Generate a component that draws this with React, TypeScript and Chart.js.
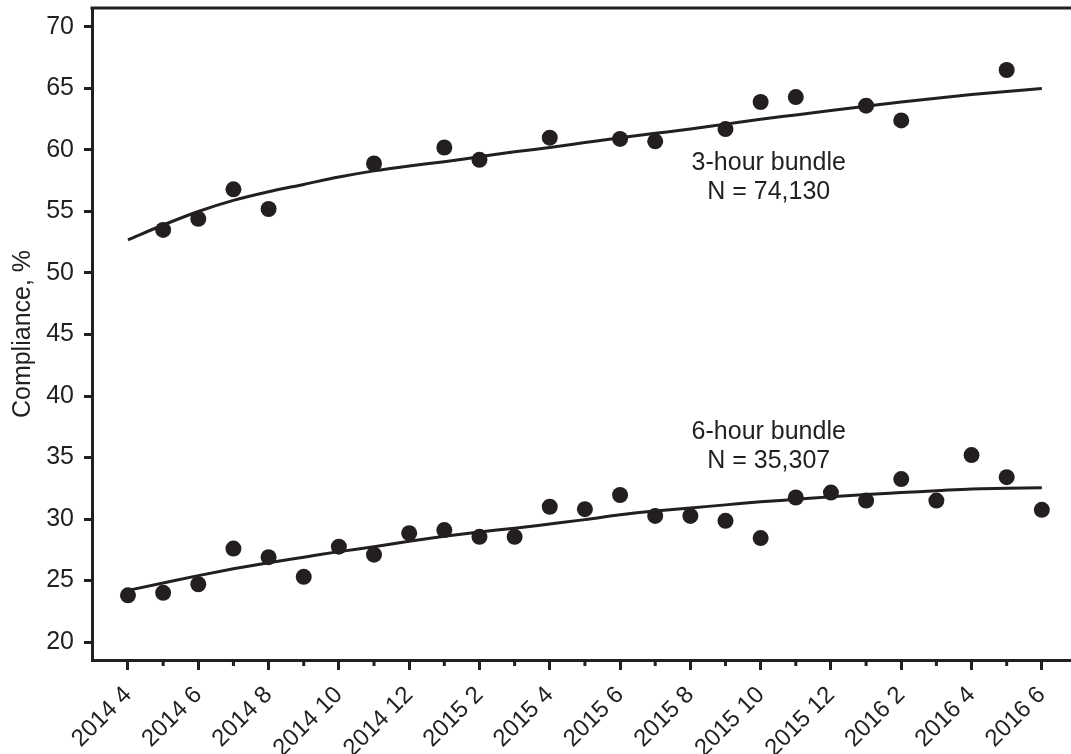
import React, { useEffect, useRef } from 'react';
import { Chart, registerables } from 'chart.js';

Chart.register(...registerables);

// ---- data ----
const monthLabels = [
  '2014 4', '2014 5', '2014 6', '2014 7', '2014 8', '2014 9', '2014 10', '2014 11', '2014 12',
  '2015 1', '2015 2', '2015 3', '2015 4', '2015 5', '2015 6', '2015 7', '2015 8', '2015 9',
  '2015 10', '2015 11', '2015 12', '2016 1', '2016 2', '2016 3', '2016 4', '2016 5', '2016 6',
];

const threeHourValues: (number | null)[] = [
  null, 53.5, 54.4, 56.8, 55.2, null, null, 58.9, null,
  60.2, 59.2, null, 61.0, null, 60.9, 60.7, null, 61.7,
  63.9, 64.3, null, 63.6, 62.4, null, null, 66.5, null,
];

const threeHourFit = [
  52.7, 53.9, 55.0, 55.9, 56.6, 57.2, 57.8, 58.3, 58.7,
  59.05, 59.45, 59.85, 60.2, 60.6, 61.0, 61.35, 61.7, 62.1,
  62.5, 62.85, 63.2, 63.55, 63.9, 64.2, 64.5, 64.75, 65.0,
];

const sixHourValues: (number | null)[] = [
  23.8, 24.0, 24.7, 27.6, 26.9, 25.3, 27.75, 27.1, 28.85,
  29.1, 28.55, 28.55, 31.0, 30.8, 31.95, 30.25, 30.25, 29.85,
  28.45, 31.75, 32.15, 31.5, 33.25, 31.5, 35.2, 33.4, 30.75,
];

const sixHourFit = [
  24.2, 24.8, 25.4, 25.95, 26.45, 26.9, 27.35, 27.75, 28.2,
  28.6, 28.95, 29.25, 29.6, 29.95, 30.35, 30.65, 30.9, 31.15,
  31.4, 31.6, 31.8, 32.0, 32.15, 32.3, 32.45, 32.5, 32.55,
];

const yTickValues = [20, 25, 30, 35, 40, 45, 50, 55, 60, 65, 70];

const threeHourNote = ['3-hour bundle', 'N = 74,130'];
const sixHourNote = ['6-hour bundle', 'N = 35,307'];

// ---- style ----
const FONT = '"Liberation Sans", Arial, Helvetica, sans-serif';
const INK = '#231f20';

const toPoints = (arr: (number | null)[]) =>
  arr
    .map((y, i) => (y == null ? null : { x: i, y }))
    .filter((p) => p !== null) as { x: number; y: number }[];

const framePlugin = {
  id: 'frameAndNotes',
  afterDraw(chart: any) {
    const { ctx, chartArea, scales } = chart;
    const xs = scales.x;
    ctx.save();
    // top border
    ctx.strokeStyle = INK;
    ctx.lineWidth = 3;
    ctx.beginPath();
    ctx.moveTo(chartArea.left - 1.5, chartArea.top);
    ctx.lineTo(chartArea.right, chartArea.top);
    ctx.stroke();
    // minor ticks (odd months)
    for (let i = 1; i < monthLabels.length; i += 2) {
      const px = xs.getPixelForValue(i);
      ctx.beginPath();
      ctx.moveTo(px, chartArea.bottom);
      ctx.lineTo(px, chartArea.bottom + 6);
      ctx.stroke();
    }
    // annotations
    const notes = [
      { lines: threeHourNote, x: 18.23, y: 58.94 },
      { lines: sixHourNote, x: 18.23, y: 37.1 },
    ];
    ctx.fillStyle = INK;
    ctx.font = `25px ${FONT}`;
    ctx.textAlign = 'center';
    ctx.textBaseline = 'middle';
    notes.forEach((n) => {
      const px = xs.getPixelForValue(n.x);
      const py = scales.y.getPixelForValue(n.y);
      n.lines.forEach((t, k) => ctx.fillText(t, px, py + k * 29));
    });
    ctx.restore();
  },
};

export default function App() {
  const ref = useRef<HTMLCanvasElement>(null);

  useEffect(() => {
    if (!ref.current) return;
    const lineDs = (data: number[]) => ({
      data: toPoints(data),
      showLine: true,
      pointRadius: 0,
      borderColor: INK,
      borderWidth: 3,
      cubicInterpolationMode: 'monotone' as const,
      fill: false,
    });
    const dotDs = (data: (number | null)[]) => ({
      data: toPoints(data),
      showLine: false,
      pointRadius: 8,
      pointBackgroundColor: INK,
      pointBorderColor: INK,
      pointBorderWidth: 0,
    });
    const chart = new Chart(ref.current, {
      type: 'scatter',
      data: {
        datasets: [
          lineDs(threeHourFit),
          lineDs(sixHourFit),
          dotDs(threeHourValues),
          dotDs(sixHourValues),
        ] as any,
      },
      options: {
        responsive: false,
        animation: false,
        layout: { autoPadding: false, padding: { top: 8, left: 0, right: 0, bottom: 0 } },
        plugins: {
          legend: { display: false },
          tooltip: { enabled: false },
        },
        scales: {
          x: {
            type: 'linear',
            min: -1.024,
            max: 26.83,
            afterBuildTicks: (s: any) => {
              s.ticks = monthLabels.map((_, i) => ({ value: i }));
            },
            afterFit: (s: any) => {
              s.height = 94;
              s.paddingLeft = 0;
              s.paddingRight = 0;
            },
            ticks: {
              autoSkip: false,
              minRotation: 45,
              maxRotation: 45,
              padding: 11,
              color: INK,
              font: { family: FONT, size: 24 },
              callback: (v: any) => (Number(v) % 2 === 0 ? monthLabels[Number(v)] : ''),
            },
            grid: {
              drawOnChartArea: false,
              drawTicks: true,
              tickLength: 10,
              tickWidth: 3,
              tickColor: (c: any) =>
                c.tick && c.tick.value % 2 === 0 ? INK : 'rgba(0,0,0,0)',
            },
            border: { color: INK, width: 3 },
          },
          y: {
            type: 'linear',
            min: 18.54,
            max: 71.54,
            afterBuildTicks: (s: any) => {
              s.ticks = yTickValues.map((v) => ({ value: v }));
            },
            afterFit: (s: any) => {
              s.width = 92;
              s.paddingTop = 0;
              s.paddingBottom = 0;
            },
            ticks: {
              padding: 10,
              color: INK,
              font: { family: FONT, size: 25 },
            },
            grid: {
              drawOnChartArea: false,
              drawTicks: true,
              tickLength: 8,
              tickWidth: 3,
              tickColor: INK,
            },
            border: { color: INK, width: 3 },
            title: {
              display: true,
              text: 'Compliance, %',
              color: INK,
              font: { family: FONT, size: 25 },
              padding: { top: 8, bottom: 0 },
            },
          },
        },
      } as any,
      plugins: [framePlugin],
    });
    return () => chart.destroy();
  }, []);

  return (
    <div style={{ position: 'absolute', left: 0, top: 0, width: 1071, height: 754, background: '#fff' }}>
      <canvas ref={ref} width={1071} height={754} style={{ display: 'block' }} />
    </div>
  );
}
